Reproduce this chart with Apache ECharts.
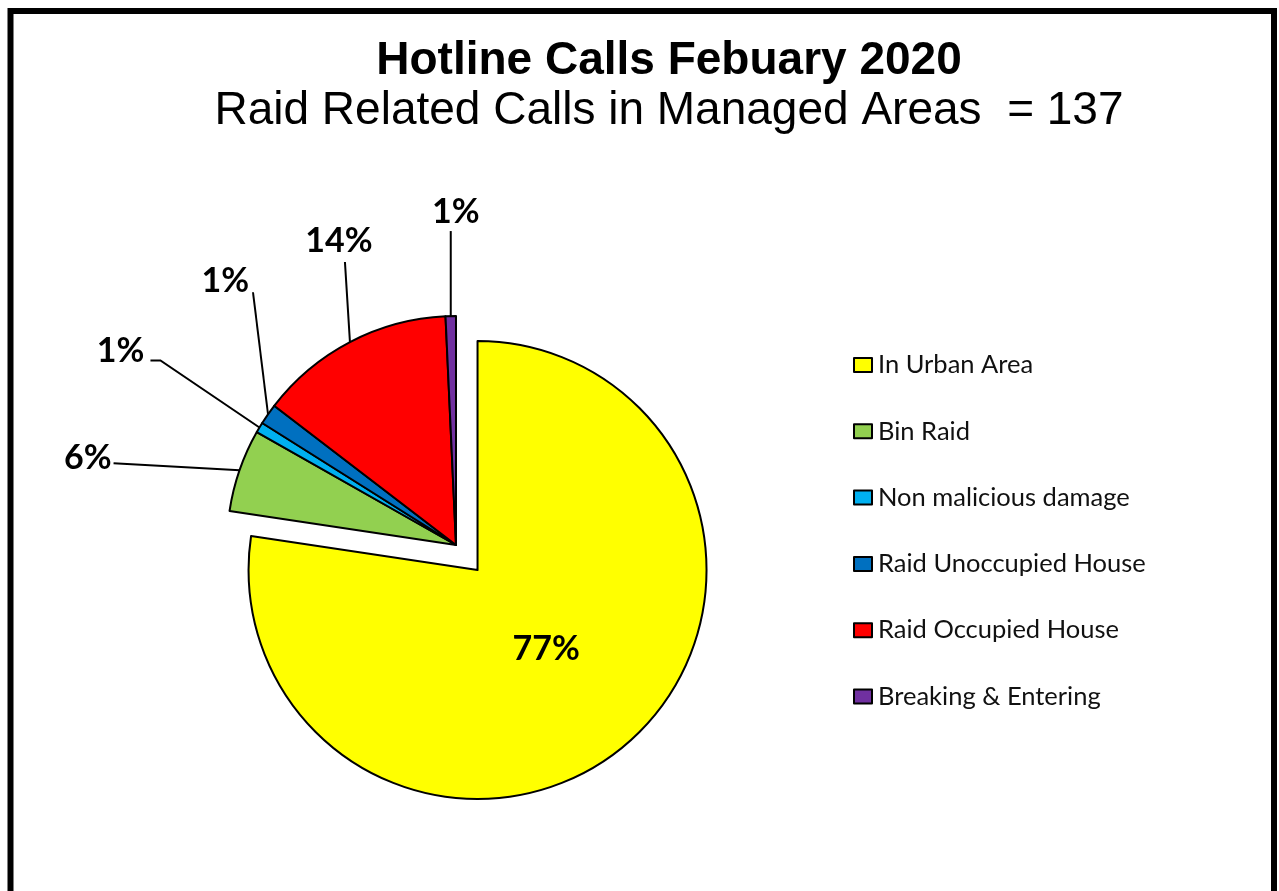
<!DOCTYPE html>
<html>
<head>
<meta charset="utf-8">
<style>
  html, body { margin: 0; padding: 0; background: #fff; }
  #chart { width: 1279px; height: 891px; }
</style>
<script src="https://cdn.jsdelivr.net/npm/echarts@6/dist/echarts.min.js"></script>
</head>
<body>
<div id="chart"></div>
<script>
// ---- data ----
const categories = ['In Urban Area', 'Bin Raid', 'Non malicious damage', 'Raid Unoccupied House', 'Raid Occupied House', 'Breaking & Entering'];
const callCounts = [106, 8, 1, 2, 19, 1];
const sliceColors = ['#FFFF00', '#92D050', '#00B0F0', '#0070C0', '#FF0000', '#7030A0'];
const titleText = 'Hotline Calls Febuary 2020';
const subtitleText = 'Raid Related Calls in Managed Areas  = 137';

// label leader-line offsets (relative to the slice edge point found by the library)
const guideOffsets = [
  { shift: [-8, -10] },
  { line: [[-126, -7]], label: [-128, -12], align: 'right' },
  { line: [[-99, -67], [-109, -67]], label: [-115, -76], align: 'right' },
  { line: [[-15, -122]], label: [-19, -133], align: 'right' },
  { line: [[-5, -80]], label: [-11, -101], align: 'center' },
  { line: [[0, -85]], label: [5, -104], align: 'center' }
];

const chart = echarts.init(document.getElementById('chart'), null, { renderer: 'canvas' });

const pieData = categories.map((name, i) => {
  const item = { name: name, value: callCounts[i], itemStyle: { color: sliceColors[i] } };
  if (i === 0) {
    item.selected = true;
    item.label = { position: 'inside' };
    item.labelLine = { show: false };
  }
  return item;
});

chart.setOption({
  animation: false,
  backgroundColor: '#fff',
  title: {
    text: titleText,
    subtext: subtitleText,
    left: 664,
    top: 33,
    textAlign: 'center',
    itemGap: 4,
    textStyle: { fontFamily: 'Liberation Sans', fontWeight: 'bold', fontSize: 46, color: '#000' },
    subtextStyle: { fontFamily: 'Liberation Sans', fontWeight: 'normal', fontSize: 46, color: '#000' }
  },
  graphic: [{
    type: 'rect',
    silent: true,
    shape: { x: 10.5, y: 11, width: 1263.5, height: 1000 },
    style: { fill: null, stroke: '#000', lineWidth: 6 }
  }],
  legend: {
    orient: 'vertical',
    left: 848,
    top: 347,
    itemWidth: 18,
    itemHeight: 14,
    itemGap: 40.3,
    icon: 'rect',
    selectedMode: false,
    data: categories,
    itemStyle: { borderColor: '#000', borderWidth: 2 },
    textStyle: { fontFamily: 'Lato', fontSize: 25.5, color: '#111', padding: [0, 0, 0, 1] }
  },
  series: [{
    type: 'pie',
    center: [456, 545],
    radius: 229,
    startAngle: 90,
    clockwise: true,
    selectedMode: 'single',
    selectedOffset: 33,
    avoidLabelOverlap: false,
    emphasis: { disabled: true },
    itemStyle: { borderColor: '#000', borderWidth: 2 },
    select: { itemStyle: { borderColor: '#000', borderWidth: 2 } },
    label: {
      show: true,
      position: 'outside',
      fontFamily: 'Lato',
      fontWeight: 'bold',
      fontSize: 34,
      color: '#000',
      formatter: p => Math.round(p.percent) + '%'
    },
    labelLine: {
      show: true,
      length: 20,
      length2: 10,
      smooth: false,
      lineStyle: { color: '#000', width: 2 }
    },
    labelLayout: function (params) {
      const g = guideOffsets[params.dataIndex];
      if (!g) return {};
      if (g.shift) return { dx: g.shift[0], dy: g.shift[1] };
      if (!params.labelLinePoints) return {};
      const p0 = params.labelLinePoints[0];
      const pts = [p0].concat(g.line.map(o => [p0[0] + o[0], p0[1] + o[1]]));
      return {
        x: p0[0] + g.label[0],
        y: p0[1] + g.label[1],
        align: g.align,
        verticalAlign: 'middle',
        labelLinePoints: pts
      };
    },
    data: pieData
  }]
});
</script>
</body>
</html>
